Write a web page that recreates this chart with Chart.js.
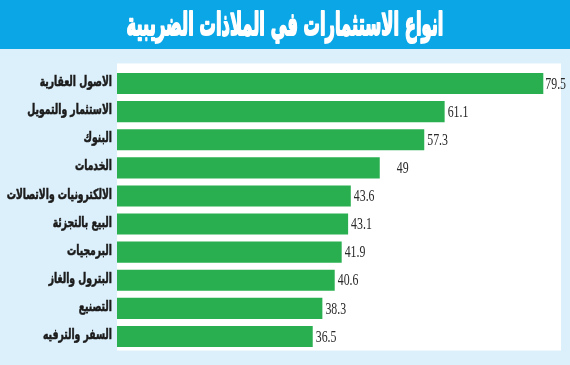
<!DOCTYPE html>
<html>
<head>
<meta charset="utf-8">
<script src="https://cdn.jsdelivr.net/npm/chart.js@4"></script>
<style>
html,body{margin:0;padding:0;background:#dcf0fb;}
#wrap{width:570px;height:365px;position:relative;}
</style>
</head>
<body>
<div id="wrap"><canvas id="c" width="570" height="365"></canvas></div>
<script>
const titleText = 'انواع الاستثمارات في الملاذات الضريبية';
const categories = [
  'الاصول العقارية',
  'الاستثمار والتمويل',
  'البنوك',
  'الخدمات',
  'الالكترونيات والاتصالات',
  'البيع بالتجزئة',
  'البرمجيات',
  'البترول والغاز',
  'التصنيع',
  'السفر والترفيه'
];
const values = [79.5, 61.1, 57.3, 49, 43.6, 43.1, 41.9, 40.6, 38.3, 36.5];
const valueLabels = ['79.5', '61.1', '57.3', '49', '43.6', '43.1', '41.9', '40.6', '38.3', '36.5'];

const bgPlugin = {
  id: 'bg',
  beforeDraw(chart) {
    const ctx = chart.ctx, a = chart.chartArea;
    ctx.save();
    ctx.fillStyle = '#dcf0fb';
    ctx.fillRect(0, 0, chart.width, chart.height);
    ctx.fillStyle = '#0ba6e6';
    ctx.fillRect(0, 0, chart.width, 49);
    ctx.fillStyle = '#ffffff';
    ctx.fillRect(a.left, a.top - 6, a.right - a.left, a.bottom - a.top + 6);
    // condensed heavy title
    ctx.fillStyle = '#ffffff';
    ctx.strokeStyle = '#ffffff';
    ctx.lineWidth = 2;
    ctx.lineJoin = 'round';
    ctx.font = 'bold 32px "DejaVu Sans", sans-serif';
    ctx.textAlign = 'center';
    ctx.textBaseline = 'alphabetic';
    ctx.translate(285, 35);
    ctx.scale(0.51, 1);
    ctx.strokeText(titleText, 0, 0);
    ctx.fillText(titleText, 0, 0);
    ctx.restore();
  }
};

const labelPlugin = {
  id: 'catLabels',
  afterDraw(chart) {
    const ctx = chart.ctx;
    const y = chart.scales.y;
    ctx.save();
    ctx.fillStyle = '#1b1b1b';
    ctx.strokeStyle = '#1b1b1b';
    ctx.lineWidth = 0.6;
    ctx.font = 'bold 14px "DejaVu Sans", sans-serif';
    ctx.textAlign = 'right';
    ctx.textBaseline = 'middle';
    categories.forEach((lab, i) => {
      ctx.save();
      ctx.translate(112, y.getPixelForTick(i) - 1);
      ctx.scale(0.66, 1);
      ctx.strokeText(lab, 0, 0);
      ctx.fillText(lab, 0, 0);
      ctx.restore();
    });
    ctx.restore();
  }
};

const valuePlugin = {
  id: 'vals',
  afterDatasetsDraw(chart, args, opts) {
    const ctx = chart.ctx;
    const meta = chart.getDatasetMeta(0);
    ctx.save();
    ctx.fillStyle = '#2a2a2a';
    ctx.font = '16px "Liberation Serif", serif';
    ctx.textBaseline = 'middle';
    ctx.textAlign = 'left';
    meta.data.forEach((bar, i) => {
      const gap = (opts.gaps && opts.gaps[i]) || 3;
      ctx.save();
      ctx.translate(bar.x + gap, bar.y + 1);
      ctx.scale(0.74, 1);
      ctx.fillText(valueLabels[i], 0, 0);
      ctx.restore();
    });
    ctx.restore();
  }
};

new Chart(document.getElementById('c'), {
  type: 'bar',
  data: {
    labels: categories,
    datasets: [{
      data: values,
      backgroundColor: '#29af4f',
      borderWidth: 0,
      categoryPercentage: 1,
      barPercentage: 0.75
    }]
  },
  options: {
    indexAxis: 'y',
    responsive: false,
    animation: false,
    layout: { padding: { left: 0, right: 9, top: 69.5, bottom: 14.5 } },
    plugins: {
      legend: { display: false },
      tooltip: { enabled: false },
      title: { display: false, text: titleText },
      vals: { gaps: [2, 3, 3, 17, 3, 3, 3, 3, 3, 3] }
    },
    scales: {
      x: { display: false, min: 0, max: 82.8 },
      y: {
        grid: { display: false },
        border: { display: false },
        afterFit(scale) { scale.width = 117; },
        ticks: { display: false }
      }
    }
  },
  plugins: [bgPlugin, valuePlugin, labelPlugin]
});
</script>
</body>
</html>
